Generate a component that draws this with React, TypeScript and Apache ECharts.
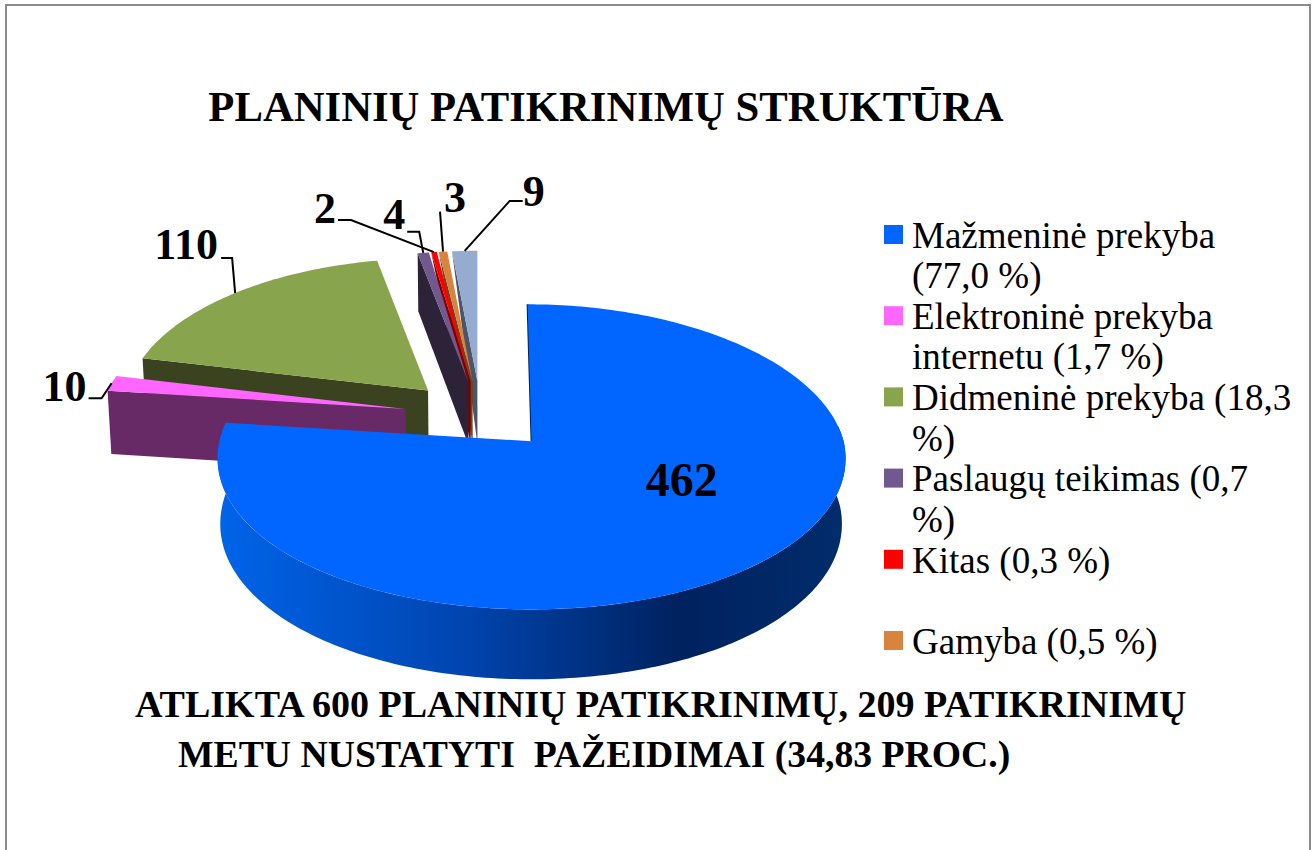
import React, { useEffect, useRef } from "react";
import * as echarts from "echarts";

const titleText = "PLANINIŲ PATIKRINIMŲ STRUKTŪRA";
const footerLines = [
  "ATLIKTA 600 PLANINIŲ PATIKRINIMŲ, 209 PATIKRINIMŲ",
  "METU NUSTATYTI  PAŽEIDIMAI (34,83 PROC.)",
];
const sliceValues = [462, 10, 110, 4, 2, 3, 9];
const topColors = ["#0066FF", "#FF66FF", "#88A44D", "#71588F", "#FF0000", "#D8843F", "#95ABD0"];
const sideColors = ["#00205F", "#672A66", "#3A421F", "#2C2338", "#7A0000", "#6E4420", "#4A5568"];
const legendNames = [
  "Mažmeninė prekyba\n(77,0 %)",
  "Elektroninė prekyba\ninternetu (1,7 %)",
  "Didmeninė prekyba (18,3\n%)",
  "Paslaugų teikimas (0,7\n%)",
  "Kitas (0,3 %)",
  "Gamyba (0,5 %)",
];

const SERIF = "'Liberation Serif', 'Times New Roman', serif";
const CX = 481, CY = 415, BX = 306, AY = 148, KX = 0.11, KY = 0.09, EXPLODE_X = 0.25, EXPLODE_Y = 0.233;
const rad = (d: number) => (d * Math.PI) / 180;
const total = sliceValues.reduce((a, b) => a + b, 0);

// leader / label layout, relative to the slice's outer mid-point
const labelLayout: any[] = [
  { text: [-75, -85], leader: null },
  { text: [-47, 3], leader: [[-10, 15], [-23, 15]] },
  { text: [-49, -49], leader: [[-3, -35], [-14, -35]] },
  { text: [-29, -38], leader: [[-4, -21], [-16, -21]] },
  { text: [-109, -44], leader: [[-83, -32], [-96, -32]] },
  { text: [12, -54], leader: [[-3, -40]] },
  { text: [69, -59], leader: [[45, -50], [58, -50]] },
];

function project(ex: number, ey: number, sinT: number, cosT: number, bottom = false) {
  const Y = ey + cosT;
  const sx = 1 / (1 + KX * Y), sy = 1 / (1 + KY * Y);
  let x = CX + BX * ex + BX * sinT * sx;
  let y = CY - AY * Y * sy;
  if (bottom) {
    x = CX + (x - CX) * 0.99;
    y += 64 - 5 * Y;
  }
  return [x, y];
}

function renderSlice(_params: any, api: any) {
  const value = api.value(0) as number;
  const idx = api.value(1) as number;
  let before = 0;
  for (let i = 0; i < idx; i++) before += sliceValues[i];
  const t1 = (before / total) * 360;
  const t2 = ((before + value) / total) * 360;
  const tm = (t1 + t2) / 2;
  const ex = EXPLODE_X * Math.sin(rad(tm)), ey = EXPLODE_Y * Math.cos(rad(tm));
  const pt = (t: number, bottom = false) => {
    const p = project(ex, ey, Math.sin(rad(t)), Math.cos(rad(t)), bottom);
    if (idx === 0) {
      const back = Math.max(0, Math.cos(rad(t)));
      p[0] -= 4 * back;
      p[1] += 3 * back;
    }
    return p;
  };
  const apexTop = project(ex, ey, 0, 0);
  const apexBot = project(ex, ey, 0, 0, true);
  const arc = (a: number, b: number, bottom = false) => {
    const out: number[][] = [];
    const n = Math.max(2, Math.ceil(Math.abs(b - a)));
    for (let i = 0; i <= n; i++) out.push(pt(a + ((b - a) * i) / n, bottom));
    return out;
  };
  const children: any[] = [];

  if (idx === 0) {
    children.push({ type: "polyline", shape: { points: [apexTop, pt(t1)] }, style: { stroke: sideColors[0], lineWidth: 2, fill: "none" } });
    const wa = 84, wb = t2;
    children.push({
      type: "polygon",
      shape: { points: [...arc(wa, wb), ...arc(wb, wa, true)] },
      style: {
        fill: {
          type: "linear", x: 1, y: 0, x2: 0, y2: 0,
          colorStops: [
            { offset: 0, color: "#022C6B" },
            { offset: 0.27, color: "#00225F" },
            { offset: 0.6, color: "#0044AE" },
            { offset: 1, color: "#0064EA" },
          ],
        },
      },
    });
  } else if (idx <= 3) {
    children.push({ type: "polygon", shape: { points: [pt(t1), apexTop, apexBot, pt(t1, true)] }, style: { fill: sideColors[idx] } });
  } else {
    children.push({ type: "polygon", shape: { points: [pt(t1), apexTop, apexBot] }, style: { fill: sideColors[idx] } });
  }
  children.push({ type: "polygon", shape: { points: [apexTop, ...arc(t1, t2)] }, style: { fill: topColors[idx] } });

  const anchor = pt(tm);
  const lay = labelLayout[idx];
  if (lay.leader) {
    const pts = [anchor, ...lay.leader.map((o: number[]) => [anchor[0] + o[0], anchor[1] + o[1]])];
    children.push({ type: "polyline", shape: { points: pts }, style: { stroke: "#000", lineWidth: 2, fill: "none" } });
  }
  children.push({
    type: "text",
    x: anchor[0] + lay.text[0],
    y: anchor[1] + lay.text[1],
    style: {
      text: String(value), fill: "#000", fontFamily: SERIF, fontWeight: "bold",
      fontSize: idx === 0 ? 48 : 44, align: "center", verticalAlign: "middle",
    },
  });
  return { type: "group", children };
}

export default function App() {
  const ref = useRef<HTMLDivElement>(null);
  useEffect(() => {
    const chart = echarts.init(ref.current!, undefined, { renderer: "svg" });
    const seriesData = sliceValues.map((v, i) => [v, i]).reverse();
    const legendEls: any[] = [];
    legendNames.forEach((name, i) => {
      legendEls.push({ type: "rect", shape: { x: 884, y: 225 + i * 81.2, width: 19, height: 19 }, style: { fill: topColors[i] } });
      legendEls.push({
        type: "text", x: 912, y: 215 + i * 81.2,
        style: { text: name, fill: "#000", fontFamily: SERIF, fontSize: 37, lineHeight: 40.5, align: "left", verticalAlign: "top" },
      });
    });
    chart.setOption({
      animation: false,
      backgroundColor: "#ffffff",
      title: { show: false },
      graphic: [
        { type: "polyline", shape: { points: [[6, 860], [6, 5], [1310, 5], [1310, 860]] }, style: { stroke: "#8c8c8c", lineWidth: 2, fill: "none" } },
        { type: "text", x: 606, y: 106, style: { text: titleText, fill: "#000", fontFamily: SERIF, fontWeight: "bold", fontSize: 42.7, align: "center", verticalAlign: "middle" } },
        { type: "text", x: 135, y: 704, style: { text: footerLines[0], fill: "#000", fontFamily: SERIF, fontWeight: "bold", fontSize: 38, align: "left", verticalAlign: "middle" } },
        { type: "text", x: 178, y: 754, style: { text: footerLines[1], fill: "#000", fontFamily: SERIF, fontWeight: "bold", fontSize: 37.7, align: "left", verticalAlign: "middle" } },
        ...legendEls,
      ],
      series: [{ type: "custom", coordinateSystem: "none", silent: true, data: seriesData, renderItem: renderSlice, z: 1 }],
    });
    return () => chart.dispose();
  }, []);
  return <div ref={ref} style={{ position: "absolute", left: 0, top: 0, width: 1315, height: 850 }} />;
}
